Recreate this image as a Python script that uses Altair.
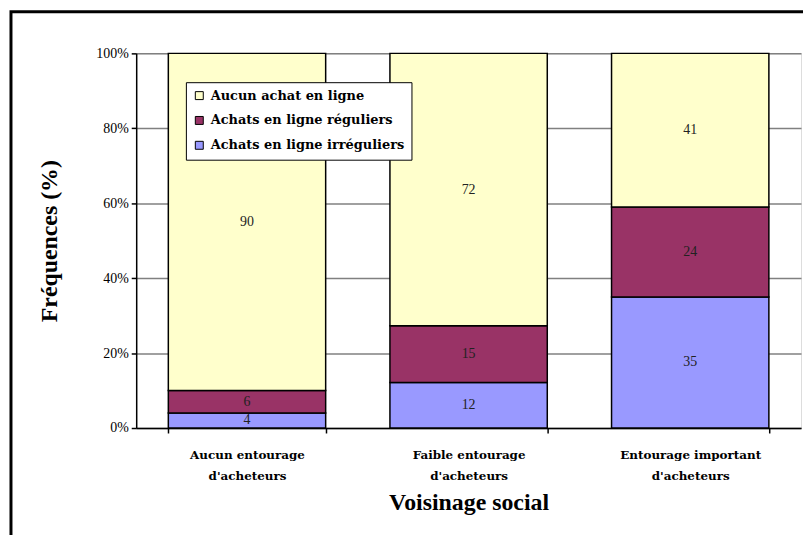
import altair as alt
import pandas as pd

categories = ["Aucun entourage d'acheteurs", "Faible entourage d'acheteurs", "Entourage important d'acheteurs"]
series = ["Aucun achat en ligne", "Achats en ligne réguliers", "Achats en ligne irréguliers"]
stack_pos = [2, 1, 0]  # irréguliers at the bottom
colors = ["#FFFFCC", "#993366", "#9999FF"]
values = {
    "Aucun achat en ligne": [90, 72, 41],
    "Achats en ligne réguliers": [6, 15, 24],
    "Achats en ligne irréguliers": [4, 12, 35],
}

rows = []
for s, pos in zip(series, stack_pos):
    for c, v in zip(categories, values[s]):
        rows.append({"cat": c, "serie": s, "pos": pos, "val": v})
df = pd.DataFrame(rows)

serif = "Liberation Serif"
wide = "DejaVu Serif"

base = alt.Chart(df).transform_stack(
    stack="val", groupby=["cat"], as_=["y0", "y1"], offset="normalize",
    sort=[alt.SortField("pos", order="ascending")]
).transform_calculate(mid="(datum.y0 + datum.y1) / 2")

xenc = alt.X("cat:N", sort=categories,
             scale=alt.Scale(paddingInner=0.29, paddingOuter=0.145),
             axis=alt.Axis(
                 title="Voisinage social", titleFont=serif, titleFontSize=24, titleFontWeight="bold",
                 titleX=334.5, titleY=75, titleBaseline="middle", titleAlign="center",
                 labelFont=wide, labelFontSize=12, labelFontWeight="bold", labelColor="black",
                 labelAngle=0, labelPadding=17, labelLineHeight=21, labelLimit=300,
                 labelExpr="[slice(datum.label, 0, indexof(datum.label, \" d'\")), slice(datum.label, indexof(datum.label, \" d'\") + 1)]",
                 tickBand="extent", tickSize=5, tickColor="black", tickWidth=1.5,
                 domainColor="black", domainWidth=1.5, grid=False))

bars = base.mark_bar(stroke="black", strokeWidth=1.5).encode(
    x=xenc,
    y=alt.Y("y0:Q", scale=alt.Scale(domain=[0, 1], nice=False),
            axis=alt.Axis(format=".0%", values=[0, 0.2, 0.4, 0.6, 0.8, 1.0],
                          title="Fréquences (%)", titleFont=serif, titleFontSize=24,
                          titleFontWeight="bold", titleX=-87, titleY=188.5, titleAngle=270,
                          titleAlign="center", titleBaseline="middle",
                          labelFont=serif, labelFontSize=14, labelColor="black", labelPadding=3,
                          tickSize=5, tickColor="black", tickWidth=1.5,
                          domainColor="black", domainWidth=1.5,
                          gridColor="#808080", gridWidth=1.5)),
    y2="y1:Q",
    color=alt.Color("serie:N", scale=alt.Scale(domain=series, range=colors),
                    legend=alt.Legend(title=None, orient="none", legendX=50, legendY=29,
                                      fillColor="white", strokeColor="black", padding=7,
                                      rowPadding=11, symbolType="square", symbolSize=64,
                                      symbolStrokeColor="black", symbolStrokeWidth=1,
                                      labelFont=wide, labelFontSize=13, labelFontWeight="bold",
                                      labelColor="black", labelLimit=400, labelOffset=5)),
    order=alt.Order("pos:Q"),
)

labels = base.mark_text(font=serif, fontSize=14, color="#222222").encode(
    x=alt.X("cat:N", sort=categories),
    y=alt.Y("mid:Q"),
    text=alt.Text("val:Q"),
)

frame = alt.Chart(pd.DataFrame({"f": [0]})).mark_rect(
    filled=False, stroke="black", strokeWidth=3
).encode(x=alt.value(-126), x2=alt.value(720), y=alt.value(-42), y2=alt.value(560))

chart = alt.layer(bars, labels, frame).properties(
    width=669, height=377,
    autosize=alt.AutoSizeParams(type="none"),
    padding={"left": 129, "top": 44, "right": 2, "bottom": 106},
).configure_view(stroke="#808080", strokeWidth=1.5).configure(background="white")

chart.save("out.html", embed_options={"renderer": "svg", "actions": False})
